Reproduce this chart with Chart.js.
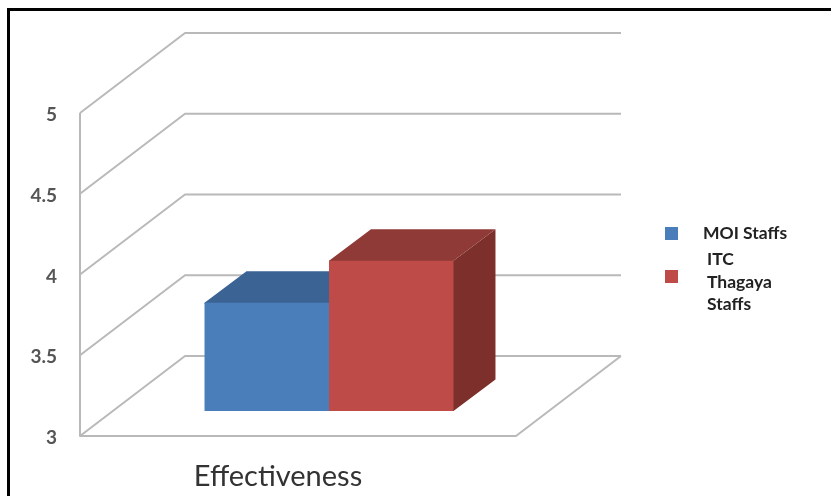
<!DOCTYPE html>
<html>
<head>
<meta charset="utf-8">
<title>Effectiveness</title>
<script src="https://cdn.jsdelivr.net/npm/chart.js@4"></script>
<style>
    html, body { margin: 0; padding: 0; width: 831px; height: 496px; overflow: hidden; background: #fff; }
    #chart { position: absolute; left: 0; top: 0; }
    #frame { position: absolute; left: 7px; top: 8px; width: 900px; height: 600px; border-left: 3px solid #000; border-top: 3px solid #000; }
    #legend { position: absolute; left: 0; top: 0; font: bold 17.5px Lato, sans-serif; color: #222; }
    .swatch { position: absolute; width: 13px; height: 13px; }
    .entry { position: absolute; line-height: 22.5px; white-space: nowrap; }
</style>
</head>
<body>
<canvas id="chart" width="831" height="496"></canvas>
<div id="frame"></div>
<div id="legend"></div>
<script>
const categories = ['Effectiveness'];
const seriesNames = ['MOI Staffs', 'ITC Thagaya Staffs'];
const moiValues = [3.67];
const itcValues = [3.93];
const yTicks = [3, 3.5, 4, 4.5, 5];

// Projection of the box: back wall offset and bar depth, in px
const WALL_DX = 105, WALL_DY = 80;
const BAR_DX = 42, BAR_DY = 31.5;
const BAR_SHIFT_X = 31, BAR_SHIFT_Y = 25;
const GRID_COLOR = '#b9b9b9';

const shades = [
    { front: '#4a7ebb', top: '#3b6494', side: '#2f5078' },
    { front: '#be4b48', top: '#8f3a37', side: '#7d2f2c' },
];

function face(ctx, color, pts) {
    ctx.fillStyle = color;
    ctx.beginPath();
    pts.forEach((p, i) => i ? ctx.lineTo(p[0], p[1]) : ctx.moveTo(p[0], p[1]));
    ctx.closePath();
    ctx.fill();
}

// Side wall, back wall and floor lines, hung off the y scale
const box3d = {
    id: 'box3d',
    beforeDatasetsDraw(chart) {
        const { ctx, chartArea: { left, right }, scales: { y } } = chart;
        const bottom = y.getPixelForValue(yTicks[0]);
        const top = y.getPixelForValue(yTicks[yTicks.length - 1]);

        ctx.save();
        ctx.strokeStyle = GRID_COLOR;
        ctx.lineWidth = 2;
        ctx.lineJoin = 'round';
        yTicks.forEach(v => {
            const py = y.getPixelForValue(v);
            ctx.beginPath();
            ctx.moveTo(left, py);
            ctx.lineTo(left + WALL_DX, py - WALL_DY);
            ctx.lineTo(right + WALL_DX, py - WALL_DY);
            ctx.stroke();
        });
        ctx.beginPath();
        ctx.moveTo(left, top);
        ctx.lineTo(left, bottom);
        ctx.lineTo(right, bottom);
        ctx.lineTo(right + WALL_DX, bottom - WALL_DY);
        ctx.stroke();
        ctx.restore();

        // Bars stand inside the floor, left to right so each covers the last one's side.
        // Side and top run 1px under the front face to avoid a seam.
        ctx.save();
        ctx.translate(BAR_SHIFT_X, -BAR_SHIFT_Y);
        chart.data.datasets.forEach((ds, i) => {
            const meta = chart.getDatasetMeta(i);
            const bar = meta.data[0];
            const l = bar.x - bar.width / 2, r = bar.x + bar.width / 2;
            face(ctx, shades[i].side, [[r - 1, bar.y], [r, bar.y], [r + BAR_DX, bar.y - BAR_DY], [r + BAR_DX, bar.base - BAR_DY], [r, bar.base], [r - 1, bar.base]]);
            face(ctx, shades[i].top, [[l, bar.y + 1], [l, bar.y], [l + BAR_DX, bar.y - BAR_DY], [r + BAR_DX, bar.y - BAR_DY], [r, bar.y], [r, bar.y + 1]]);
            meta.controller.draw();
        });
        ctx.restore();
        return false;
    }
};

const chart = new Chart(document.getElementById('chart'), {
    type: 'bar',
    data: {
        labels: categories,
        datasets: [
            { label: seriesNames[0], data: moiValues, base: yTicks[0], backgroundColor: shades[0].front },
            { label: seriesNames[1], data: itcValues, base: yTicks[0], backgroundColor: shades[1].front },
        ],
    },
    options: {
        responsive: false,
        animation: false,
        layout: { autoPadding: false, padding: { left: 0, top: 113, right: 315, bottom: 0 } },
        categoryPercentage: 0.571,
        barPercentage: 1,
        plugins: { legend: { display: false }, tooltip: { enabled: false } },
        scales: {
            x: {
                grid: { display: false, drawTicks: false },
                border: { display: false },
                afterFit: s => { s.height = 60; },
                ticks: { padding: 23, labelOffset: -20, maxRotation: 0, color: '#333', font: { family: 'Lato', size: 29 } },
            },
            y: {
                min: yTicks[0],
                max: yTicks[yTicks.length - 1],
                grid: { display: false, drawTicks: false },
                border: { display: false },
                afterFit: s => { s.width = 80; },
                afterBuildTicks: s => { s.ticks = yTicks.map(value => ({ value })); },
                ticks: {
                    padding: 23,
                    labelOffset: 2,
                    color: '#555',
                    font: { family: 'Lato', size: 19, weight: 'bold' },
                    callback: v => String(v),
                },
            },
        },
    },
    plugins: [box3d],
});

// Legend sits outside the canvas so the long entry can wrap beside its swatch
function renderLegend() {
    const items = Chart.defaults.plugins.legend.labels.generateLabels(chart);
    const swatchTops = [227, 270];
    const textSpots = [[703, 222], [707, 248]];
    document.getElementById('legend').innerHTML = items.map((item, i) => {
        const [x, y] = textSpots[i];
        return `<div class="swatch" style="left:665px;top:${swatchTops[i]}px;background:${item.fillStyle}"></div>` +
            `<div class="entry" style="left:${x}px;top:${y}px">${i ? item.text.replace(/ /g, '<br>') : item.text}</div>`;
    }).join('');
}
renderLegend();
</script>
</body>
</html>
